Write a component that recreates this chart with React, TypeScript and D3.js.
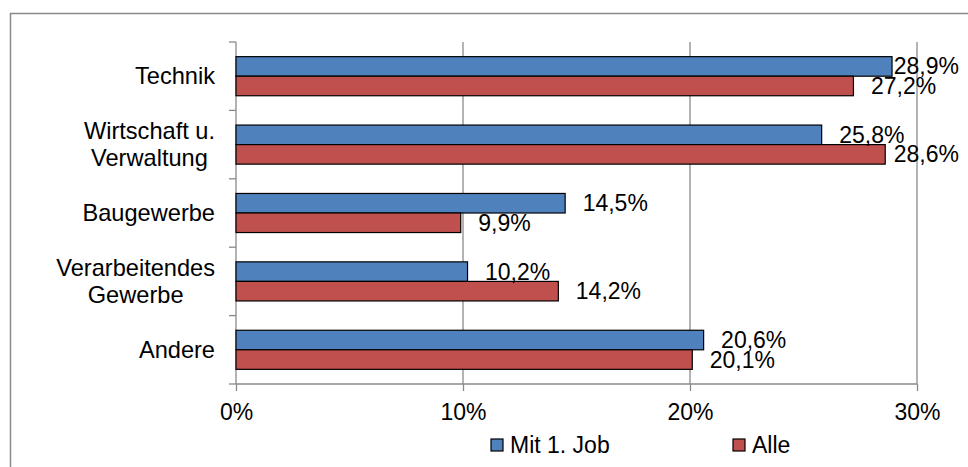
import React, { useRef, useEffect } from 'react';
import * as d3 from 'd3';

// Werte
const categories = ['Technik', 'Wirtschaft u.\nVerwaltung', 'Baugewerbe', 'Verarbeitendes\nGewerbe', 'Andere'];
const seriesNames = ['Mit 1. Job', 'Alle'];
const mitErstemJob = [28.9, 25.8, 14.5, 10.2, 20.6];
const alle = [27.2, 28.6, 9.9, 14.2, 20.1];
const xTicks = [0, 10, 20, 30];
const tickLabels = ['0%', '10%', '20%', '30%'];

const seriesValues = [mitErstemJob, alle];
const seriesColors = ['#4F81BD', '#C0504D'];

const width = 968;
const height = 467;
const font = '"Liberation Sans", Arial, sans-serif';
const fontSize = 23;
const gridColor = '#8a8a8a';

const App = () => {
    const d3Container = useRef(null);

    useEffect(() => {
        if (!d3Container.current) {
            return;
        }
        const svg = d3.select(d3Container.current);
        svg.selectAll('*').remove();

        const plot = { left: 236, right: 917, top: 42, bottom: 384 };

        const x = d3.scaleLinear()
            .domain([0, 30])
            .range([plot.left, plot.right]);
        const y = d3.scaleBand()
            .domain(categories)
            .range([plot.top, plot.bottom]);

        // gap width 75% like Excel
        const groupHeight = y.bandwidth() / 1.75;
        const ySeries = d3.scaleBand()
            .domain(seriesNames)
            .range([0, groupHeight]);

        /* chart frame */
        svg.append('rect')
            .attr('x', 10.5)
            .attr('y', 13.5)
            .attr('width', 990)
            .attr('height', 500)
            .attr('fill', 'white')
            .attr('stroke', gridColor)
            .attr('stroke-width', 1.5);

        /* vertical grid lines */
        svg.append('g').selectAll('line').data(xTicks.filter(t => t > 0))
            .enter()
            .append('line')
                .attr('x1', d => x(d))
                .attr('x2', d => x(d))
                .attr('y1', plot.top)
                .attr('y2', plot.bottom)
                .attr('stroke', gridColor)
                .attr('stroke-width', 1.3);

        /* x axis */
        const xAxis = d3.axisBottom(x)
            .tickValues(xTicks)
            .tickSize(7)
            .tickPadding(13)
            .tickFormat((d, i) => tickLabels[i]);
        const gx = svg.append('g')
            .attr('transform', 'translate(0, ' + plot.bottom + ')')
            .call(xAxis);
        gx.select('.domain')
            .attr('d', 'M' + plot.left + ',0H' + plot.right)
            .attr('stroke', gridColor)
            .attr('stroke-width', 1.3);
        gx.selectAll('.tick line').attr('stroke', gridColor).attr('stroke-width', 1.3);
        gx.selectAll('.tick text')
            .attr('fill', '#000')
            .style('font-family', font)
            .style('font-size', fontSize + 'px');

        /* y axis with ticks between categories */
        const bounds = categories.map(c => y(c) as number).concat([plot.bottom]);
        const gy = svg.append('g');
        gy.append('line')
            .attr('x1', plot.left)
            .attr('x2', plot.left)
            .attr('y1', plot.top)
            .attr('y2', plot.bottom)
            .attr('stroke', gridColor)
            .attr('stroke-width', 1.3);
        gy.selectAll('line.tick').data(bounds)
            .enter()
            .append('line')
                .attr('class', 'tick')
                .attr('x1', plot.left - 7)
                .attr('x2', plot.left)
                .attr('y1', d => d)
                .attr('y2', d => d)
                .attr('stroke', gridColor)
                .attr('stroke-width', 1.3);

        /* category labels, lines centred in a right-aligned block */
        const lineHeight = 27;
        const labelRight = 215;
        categories.forEach(c => {
            const lines = c.split('\n');
            const g = svg.append('g');
            const cy = (y(c) as number) + y.bandwidth() / 2;
            const texts = g.selectAll('text').data(lines)
                .enter()
                .append('text')
                    .attr('y', (d, i) => cy + (i - (lines.length - 1) / 2) * lineHeight)
                    .attr('dy', '0.35em')
                    .attr('text-anchor', 'middle')
                    .style('font-family', font)
                    .style('font-size', '23.6px')
                    .text(d => d);
            let maxW = 0;
            texts.each(function () {
                maxW = Math.max(maxW, (this as SVGTextElement).getComputedTextLength());
            });
            texts.attr('x', labelRight - maxW / 2);
        });

        /* bars */
        seriesNames.forEach((s, si) => {
            svg.append('g').selectAll('rect').data(seriesValues[si])
                .enter()
                .append('rect')
                    .attr('x', x(0))
                    .attr('y', (d, i) => (y(categories[i]) as number) + (y.bandwidth() - groupHeight) / 2 + (ySeries(s) as number))
                    .attr('width', d => x(d) - x(0))
                    .attr('height', ySeries.bandwidth())
                    .attr('fill', seriesColors[si])
                    .attr('stroke', '#000')
                    .attr('stroke-width', 1.2);
        });

        /* data labels */
        const labelMaxRight = 959;
        seriesNames.forEach((s, si) => {
            svg.append('g').selectAll('text').data(seriesValues[si])
                .enter()
                .append('text')
                    .attr('y', (d, i) => (y(categories[i]) as number) + (y.bandwidth() - groupHeight) / 2 + (ySeries(s) as number) + ySeries.bandwidth() / 2)
                    .attr('dy', '0.35em')
                    .style('font-family', font)
                    .style('font-size', fontSize + 'px')
                    .text(d => d.toFixed(1).replace('.', ',') + '%')
                    .attr('x', function (d) {
                        const w = (this as SVGTextElement).getComputedTextLength();
                        return Math.min(x(d) + 17.5, labelMaxRight - w);
                    });
        });

        /* legend */
        const legendX = [491, 733];
        const legendY = 439;
        seriesNames.forEach((s, si) => {
            const g = svg.append('g').attr('transform', 'translate(' + legendX[si] + ', ' + legendY + ')');
            g.append('rect')
                .attr('width', 12)
                .attr('height', 12)
                .attr('fill', seriesColors[si])
                .attr('stroke', '#000')
                .attr('stroke-width', 1.2);
            g.append('text')
                .attr('x', 19)
                .attr('y', 6)
                .attr('dy', '0.35em')
                .style('font-family', font)
                .style('font-size', fontSize + 'px')
                .text(s);
        });
    }, []);

    return (
        <svg
            width={width}
            height={height}
            ref={d3Container}
            style={{ position: 'absolute', left: 0, top: 0, background: 'white' }}
        />
    );
};

export default App;
